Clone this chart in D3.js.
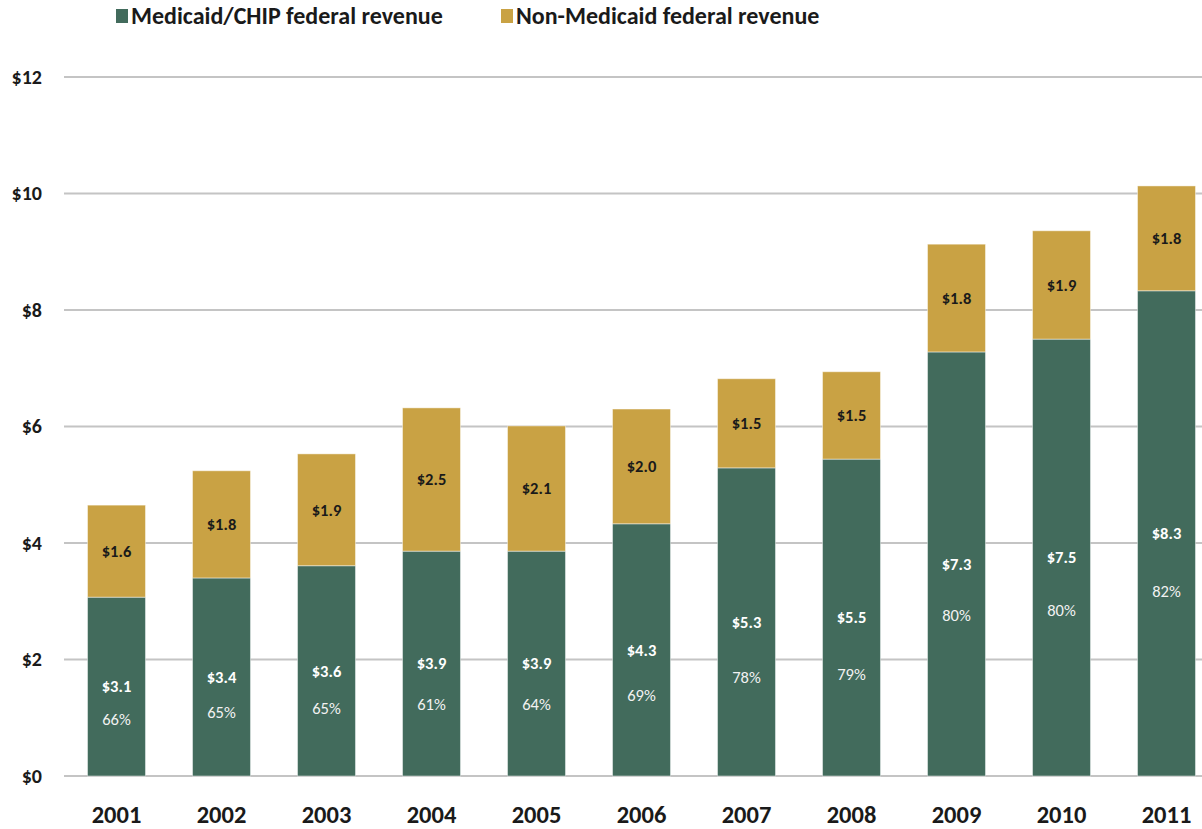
<!DOCTYPE html>
<html>
<head>
<meta charset="utf-8">
<script src="https://cdn.jsdelivr.net/npm/d3@7"></script>
<style>
  body { margin: 0; background: #fff; }
  svg, svg text { font-family: Carlito, Lato, 'Open Sans', sans-serif; }
</style>
</head>
<body>
<div id="chart"></div>
<script>
//data
var years = ['2001', '2002', '2003', '2004', '2005', '2006', '2007', '2008', '2009', '2010', '2011'];
var medicaidVals = [3.07, 3.40, 3.61, 3.86, 3.86, 4.33, 5.29, 5.44, 7.28, 7.50, 8.33];
var nonMedicaidVals = [1.58, 1.84, 1.92, 2.46, 2.15, 1.97, 1.53, 1.50, 1.85, 1.86, 1.80];
var medicaidLabels = ['$3.1', '$3.4', '$3.6', '$3.9', '$3.9', '$4.3', '$5.3', '$5.5', '$7.3', '$7.5', '$8.3'];
var nonMedicaidLabels = ['$1.6', '$1.8', '$1.9', '$2.5', '$2.1', '$2.0', '$1.5', '$1.5', '$1.8', '$1.9', '$1.8'];
var shareLabels = ['66%', '65%', '65%', '61%', '64%', '69%', '78%', '79%', '80%', '80%', '82%'];
var yTicks = [0, 2, 4, 6, 8, 10, 12];
var seriesNames = ['Medicaid/CHIP federal revenue', 'Non-Medicaid federal revenue'];

var greenColor = '#426B5C',
    goldColor = '#C9A244',
    gridColor = '#c4c4c4',
    textColor = '#1a1a1a';

//sizes
var outerW = 1202,
    outerH = 829;

var svg = d3.select('#chart').append('svg')
    .attr('width', outerW)
    .attr('height', outerH);

//scales
var xScale = d3.scaleBand()
    .domain(years)
    .range([64, 64 + 105 * years.length])
    .paddingInner(0.448)
    .paddingOuter(0.224);

var yScale = d3.scaleLinear()
    .domain([0, 12])
    .range([776, 77]);

//gridlines
svg.append('g')
    .selectAll('line')
    .data(yTicks)
    .enter()
    .append('line')
    .attr('x1', 64)
    .attr('x2', outerW)
    .attr('y1', function(d) { return yScale(d); })
    .attr('y2', function(d) { return yScale(d); })
    .attr('stroke', gridColor)
    .attr('stroke-width', 2);

//y axis labels
var yAxis = d3.axisLeft(yScale)
    .tickValues(yTicks)
    .tickSize(0)
    .tickPadding(0)
    .tickFormat(function(d) { return '$' + d; });

var yAxisG = svg.append('g')
    .attr('transform', 'translate(42,0)')
    .call(yAxis)
    .attr('font-family', null)
    .attr('font-size', null);
yAxisG.select('.domain').remove();
yAxisG.selectAll('text')
    .attr('font-size', 20)
    .attr('font-weight', 'bold')
    .attr('fill', textColor);

//x axis labels
var xAxis = d3.axisBottom(xScale).tickSize(0).tickPadding(0);
var xAxisG = svg.append('g')
    .attr('transform', 'translate(0,806)')
    .call(xAxis)
    .attr('font-family', null)
    .attr('font-size', null);
xAxisG.select('.domain').remove();
xAxisG.selectAll('text')
    .attr('font-size', 24.5)
    .attr('font-weight', 'bold')
    .attr('fill', textColor)
    .attr('dy', '0.68em');

//bars
var barG = svg.append('g');

barG.selectAll('.bar-medicaid')
    .data(years)
    .enter()
    .append('rect')
    .attr('class', 'bar-medicaid')
    .attr('x', function(d) { return xScale(d); })
    .attr('width', xScale.bandwidth())
    .attr('y', function(d, i) { return yScale(medicaidVals[i]); })
    .attr('height', function(d, i) { return yScale(0) - yScale(medicaidVals[i]); })
    .attr('fill', greenColor)
    .attr('stroke', 'rgba(255,255,255,0.45)')
    .attr('stroke-width', 1);

barG.selectAll('.bar-non')
    .data(years)
    .enter()
    .append('rect')
    .attr('class', 'bar-non')
    .attr('x', function(d) { return xScale(d); })
    .attr('width', xScale.bandwidth())
    .attr('y', function(d, i) { return yScale(medicaidVals[i] + nonMedicaidVals[i]); })
    .attr('height', function(d, i) { return yScale(medicaidVals[i]) - yScale(medicaidVals[i] + nonMedicaidVals[i]); })
    .attr('fill', goldColor)
    .attr('stroke', 'rgba(255,255,255,0.45)')
    .attr('stroke-width', 1);

//labels
var labelG = svg.append('g').attr('text-anchor', 'middle');

labelG.selectAll('.lbl-medicaid')
    .data(years)
    .enter()
    .append('text')
    .attr('x', function(d) { return xScale(d) + xScale.bandwidth() / 2; })
    .attr('y', function(d, i) { return yScale(medicaidVals[i] / 2); })
    .attr('dy', '0.35em')
    .attr('font-size', 16.5)
    .attr('font-weight', 'bold')
    .attr('fill', '#ffffff')
    .text(function(d, i) { return medicaidLabels[i]; });

labelG.selectAll('.lbl-share')
    .data(years)
    .enter()
    .append('text')
    .attr('x', function(d) { return xScale(d) + xScale.bandwidth() / 2; })
    .attr('y', function(d, i) { return yScale(medicaidVals[i] * (i > 7 ? 0.38 : 0.32)); })
    .attr('dy', '0.35em')
    .attr('font-size', 16.5)
    .attr('fill', '#f2f2f2')
    .text(function(d, i) { return shareLabels[i]; });

labelG.selectAll('.lbl-non')
    .data(years)
    .enter()
    .append('text')
    .attr('x', function(d) { return xScale(d) + xScale.bandwidth() / 2; })
    .attr('y', function(d, i) { return yScale(medicaidVals[i] + nonMedicaidVals[i] / 2); })
    .attr('dy', '0.35em')
    .attr('font-size', 16.5)
    .attr('font-weight', 'bold')
    .attr('fill', textColor)
    .text(function(d, i) { return nonMedicaidLabels[i]; });

//legend
var legendX = [116, 501];
var legend = svg.append('g')
    .selectAll('g')
    .data(seriesNames)
    .enter()
    .append('g')
    .attr('transform', function(d, i) { return 'translate(' + legendX[i] + ',0)'; });

legend.append('rect')
    .attr('x', 0)
    .attr('y', 9)
    .attr('width', 12)
    .attr('height', 14)
    .attr('fill', function(d, i) { return i == 0 ? greenColor : goldColor; });

legend.append('text')
    .attr('x', 15)
    .attr('y', 24)
    .attr('font-size', 24)
    .attr('font-weight', 'bold')
    .attr('fill', textColor)
    .text(function(d) { return d; });
</script>
</body>
</html>
